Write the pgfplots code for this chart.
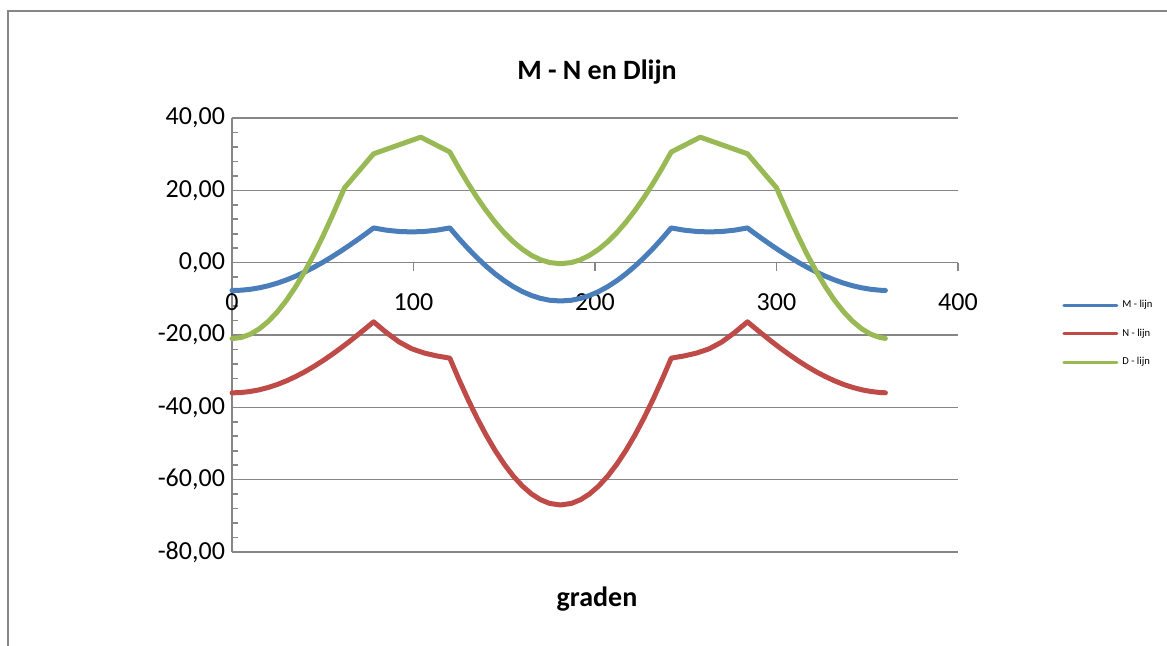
\documentclass[border=0pt]{standalone}
\usepackage{fontspec}
\setmainfont{Carlito}
\usepackage{pgfplots}
\pgfplotsset{compat=1.18}
\usepackage{pgfplotstable}

\definecolor{mblue}{HTML}{4A7EBB}
\definecolor{nred}{HTML}{BE4B48}
\definecolor{dgreen}{HTML}{98B954}
\definecolor{axgray}{HTML}{868686}

% M - lijn
\pgfplotstableread{
x y
0 -7.70
5 -7.62
10 -7.37
15 -6.96
20 -6.39
25 -5.66
30 -4.78
35 -3.76
40 -2.60
45 -1.31
50 0.09
55 1.60
60 3.20
65 4.89
70 6.64
75 8.46
78 9.60
85 8.99
92 8.62
99 8.50
106 8.62
113 8.99
120 9.60
125 6.68
130 3.93
135 1.37
140 -0.98
145 -3.11
150 -5.00
155 -6.63
160 -8.00
165 -9.08
170 -9.88
175 -10.39
181 -10.60
187 -10.39
192 -9.88
197 -9.08
202 -8.00
207 -6.63
212 -5.00
217 -3.11
222 -0.98
227 1.37
232 3.93
237 6.68
242 9.60
249 8.99
256 8.62
263 8.50
270 8.62
277 8.99
284 9.60
287 8.46
292 6.64
297 4.89
302 3.20
307 1.60
312 0.09
317 -1.31
322 -2.60
327 -3.76
332 -4.78
337 -5.66
342 -6.39
347 -6.96
352 -7.37
357 -7.62
360 -7.69
}\mlijn

% N - lijn
\pgfplotstableread{
x y
0 -36.00
5 -35.91
10 -35.62
15 -35.16
20 -34.50
25 -33.68
30 -32.68
35 -31.51
40 -30.20
45 -28.74
50 -27.14
55 -25.42
60 -23.60
65 -21.68
70 -19.68
75 -17.62
78 -16.36
85 -19.30
92 -21.90
99 -23.80
106 -25.00
113 -25.80
120 -26.40
125 -32.26
130 -37.79
135 -42.94
140 -47.67
145 -51.95
150 -55.74
155 -59.02
160 -61.77
165 -63.95
170 -65.55
175 -66.57
181 -67.00
187 -66.57
192 -65.55
197 -63.95
202 -61.77
207 -59.02
212 -55.74
217 -51.95
222 -47.67
227 -42.94
232 -37.79
237 -32.26
242 -26.40
249 -25.80
256 -25.00
263 -23.80
270 -21.90
277 -19.30
284 -16.36
287 -17.62
292 -19.68
297 -21.68
302 -23.60
307 -25.42
312 -27.14
317 -28.74
322 -30.20
327 -31.51
332 -32.68
337 -33.68
342 -34.50
347 -35.16
352 -35.62
357 -35.91
360 -35.98
}\nlijn

% D - lijn
\pgfplotstableread{
x y
0 -21.00
5 -20.70
10 -19.80
15 -18.31
20 -16.24
25 -13.60
30 -10.42
35 -6.71
40 -2.52
45 2.14
50 7.22
55 12.69
62 20.70
78 30.10
104 34.70
120 30.60
125 26.15
130 21.94
135 18.02
140 14.42
145 11.16
150 8.27
155 5.77
160 3.69
165 2.02
170 0.80
175 0.03
181 -0.30
187 0.03
192 0.80
197 2.02
202 3.69
207 5.77
212 8.27
217 11.16
222 14.42
227 18.02
232 21.94
237 26.15
242 30.60
258 34.70
284 30.10
300 20.70
307 12.69
312 7.22
317 2.14
322 -2.52
327 -6.71
332 -10.42
337 -13.60
342 -16.24
347 -18.31
352 -19.80
357 -20.70
360 -20.95
}\dlijn

\begin{document}
\begin{tikzpicture}
\useasboundingbox (0,0) rectangle (583.5pt,323pt);
\draw[axgray, line width=0.6pt] (4pt,0pt) -- (4pt,317.5pt) -- (583.5pt,317.5pt);

\begin{axis}[
  at={(116pt,47pt)}, anchor=south west,
  scale only axis, width=363pt, height=217pt,
  xmin=0, xmax=400, ymin=-80, ymax=40,
  axis x line*=middle, axis y line*=left,
  hide obscured x ticks=false,
  xtick={0,100,200,300,400},
  ytick={-80,-60,-40,-20,0,20,40},
  minor y tick num=4,
  xtick align=outside, ytick align=inside,
  major tick length=4pt, minor tick length=3pt,
  ymajorgrids,
  axis line style={draw=axgray, line width=0.8pt},
  major grid style={draw=axgray, line width=0.8pt},
  every tick/.style={draw=axgray, line width=0.8pt},
  /pgf/number format/assume math mode=true,
  tick label style={font=\fontsize{13}{15}\selectfont},
  xticklabel style={yshift=-8pt},
  yticklabel style={/pgf/number format/.cd, fixed, fixed zerofill, precision=2, use comma},
  legend style={at={(1.135,0.60)}, anchor=north west, draw=none, fill=none,
    font=\fontsize{5.3}{6}\selectfont, row sep=5.2pt},
  legend cell align=left,
  legend image code/.code={\draw[#1, line width=1.5pt] (0pt,0pt) -- (26.5pt,0pt);},
  clip=false,
]
\addplot[mblue, line width=2.5pt, line join=round, line cap=round] table {\mlijn};
\addlegendentry{M - lijn}
\addplot[nred, line width=2.5pt, line join=round, line cap=round] table {\nlijn};
\addlegendentry{N - lijn}
\addplot[dgreen, line width=2.5pt, line join=round, line cap=round] table {\dlijn};
\addlegendentry{D - lijn}
\end{axis}

\node[anchor=base, font=\bfseries\fontsize{14}{17}\selectfont] at (298.5pt,283pt) {M - N en Dlijn};
\node[anchor=base, font=\bfseries\fontsize{14}{17}\selectfont] at (298.5pt,19.5pt) {graden};
\end{tikzpicture}
\end{document}
